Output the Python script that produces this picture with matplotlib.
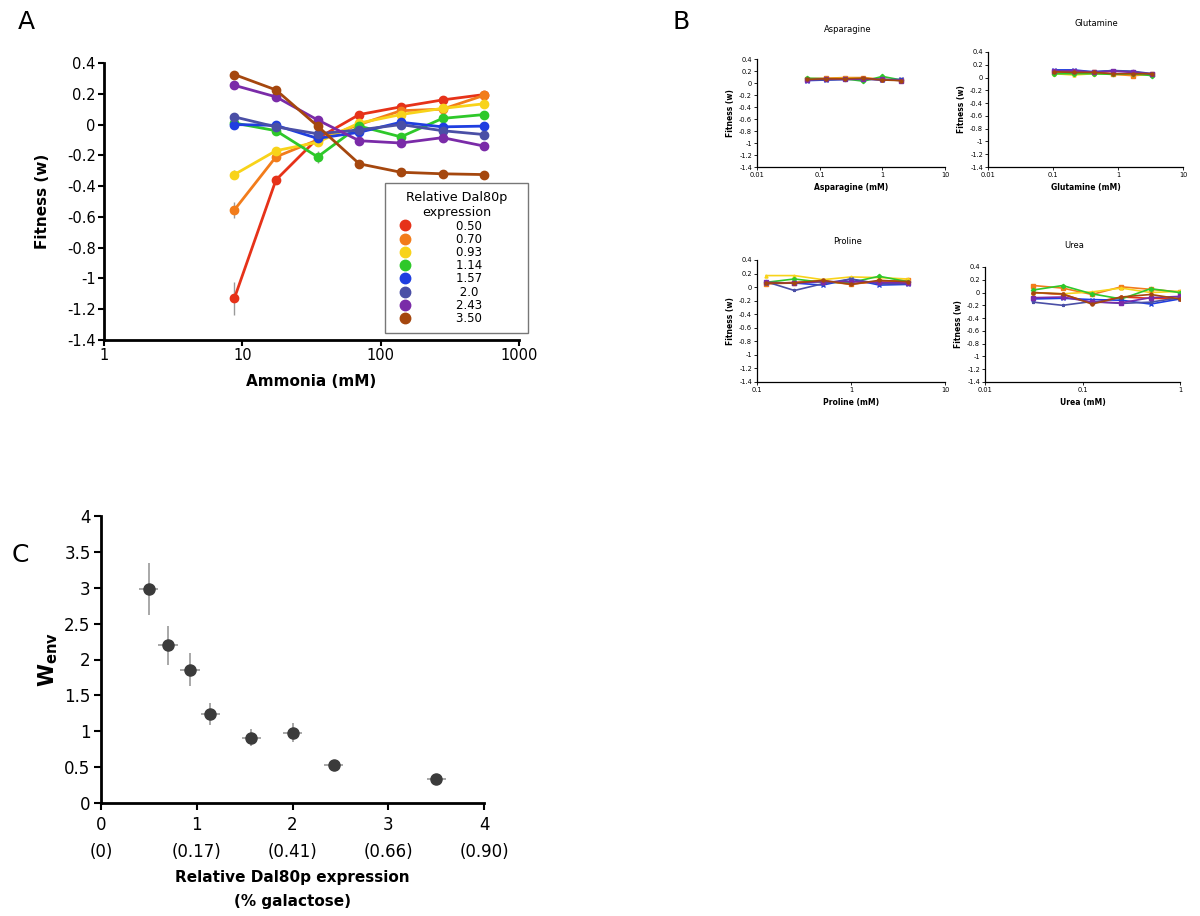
import matplotlib.pyplot as plt
from matplotlib.lines import Line2D

plt.rcParams['font.family'] = 'DejaVu Sans'
plt.rcParams['axes.unicode_minus'] = False

# expression levels (legend) and series colours
levels = ['0.50', '0.70', '0.93', '1.14', '1.57', '2.0', '2.43', '3.50']
colors = ['#e63219', '#f27c1b', '#f8d31a', '#2ec82a', '#1f3ee0', '#4a4fa6', '#7a2ba8', '#a5470e']

# panel A: ammonia
ammonia = [8.75, 17.5, 35, 70, 140, 280, 560]
fit_ammonia = [
    [-1.13, -0.36, -0.09, 0.065, 0.115, 0.16, 0.195],
    [-0.555, -0.21, -0.10, 0.00, 0.09, 0.10, 0.19],
    [-0.325, -0.17, -0.115, 0.01, 0.065, 0.105, 0.135],
    [0.01, -0.04, -0.21, -0.01, -0.08, 0.04, 0.065],
    [0.00, -0.005, -0.09, -0.05, 0.015, -0.015, -0.01],
    [0.05, -0.015, -0.06, -0.035, 0.00, -0.04, -0.065],
    [0.255, 0.18, 0.03, -0.105, -0.12, -0.085, -0.14],
    [0.325, 0.225, -0.01, -0.255, -0.31, -0.32, -0.325],
]
err_ammonia = [
    [0.11, 0.02, 0.02, 0.01, 0.01, 0.01, 0.01],
    [0.05, 0.02, 0.02, 0.01, 0.01, 0.01, 0.01],
    [0.03, 0.01, 0.01, 0.01, 0.01, 0.01, 0.01],
    [0.01, 0.01, 0.04, 0.01, 0.01, 0.01, 0.01],
    [0.01, 0.01, 0.01, 0.01, 0.01, 0.01, 0.01],
    [0.01, 0.01, 0.01, 0.01, 0.01, 0.01, 0.01],
    [0.01, 0.01, 0.01, 0.01, 0.01, 0.01, 0.01],
    [0.02, 0.01, 0.01, 0.01, 0.01, 0.01, 0.02],
]

# panel B: other nitrogen sources
asparagine = [0.0625, 0.125, 0.25, 0.5, 1, 2]
fit_asparagine = [
    [0.06, 0.07, 0.07, 0.07, 0.05, 0.05],
    [0.07, 0.08, 0.09, 0.09, 0.06, 0.05],
    [0.07, 0.07, 0.08, 0.08, 0.06, 0.04],
    [0.08, 0.07, 0.07, 0.03, 0.11, 0.05],
    [0.04, 0.05, 0.06, 0.07, 0.05, 0.06],
    [0.05, 0.05, 0.06, 0.06, 0.06, 0.05],
    [0.05, 0.07, 0.06, 0.07, 0.06, 0.04],
    [0.06, 0.07, 0.07, 0.08, 0.05, 0.04],
]
glutamine = [0.105, 0.21, 0.42, 0.84, 1.68, 3.36]
fit_glutamine = [
    [0.09, 0.09, 0.08, 0.06, 0.05, 0.06],
    [0.08, 0.08, 0.08, 0.05, 0.03, 0.05],
    [0.06, 0.04, 0.06, 0.05, 0.05, 0.04],
    [0.06, 0.06, 0.06, 0.05, 0.06, 0.03],
    [0.12, 0.12, 0.09, 0.11, 0.09, 0.05],
    [0.11, 0.10, 0.09, 0.11, 0.10, 0.06],
    [0.10, 0.11, 0.08, 0.10, 0.08, 0.06],
    [0.09, 0.08, 0.08, 0.06, 0.06, 0.06],
]
proline = [0.125, 0.25, 0.5, 1, 2, 4]
fit_proline = [
    [0.05, 0.07, 0.09, 0.05, 0.08, 0.08],
    [0.05, 0.06, 0.09, 0.04, 0.09, 0.10],
    [0.17, 0.17, 0.11, 0.15, 0.14, 0.12],
    [0.07, 0.12, 0.07, 0.07, 0.16, 0.08],
    [0.06, 0.06, 0.03, 0.12, 0.03, 0.04],
    [0.08, -0.05, 0.05, 0.12, 0.05, 0.05],
    [0.07, 0.06, 0.08, 0.08, 0.07, 0.06],
    [0.06, 0.06, 0.10, 0.04, 0.10, 0.08],
]
urea = [0.03125, 0.0625, 0.125, 0.25, 0.5, 1]
fit_urea = [
    [0.00, -0.03, -0.16, -0.07, -0.09, -0.10],
    [0.11, 0.07, -0.03, 0.09, 0.05, 0.01],
    [0.00, -0.02, 0.01, 0.07, 0.00, 0.02],
    [0.04, 0.11, -0.02, -0.10, 0.06, 0.00],
    [-0.10, -0.09, -0.11, -0.12, -0.18, -0.10],
    [-0.15, -0.20, -0.14, -0.17, -0.15, -0.08],
    [-0.08, -0.07, -0.15, -0.16, -0.08, -0.06],
    [0.00, -0.02, -0.18, -0.07, -0.03, -0.10],
]

# panel C
expression = [0.50, 0.70, 0.93, 1.14, 1.57, 2.0, 2.43, 3.50]
w_env = [2.98, 2.20, 1.86, 1.24, 0.91, 0.98, 0.53, 0.33]
w_env_err = [0.36, 0.27, 0.23, 0.155, 0.12, 0.13, 0.03, 0.02]
expr_err = [0.1, 0.1, 0.1, 0.1, 0.1, 0.1, 0.1, 0.1]
c_ticks = [0, 1, 2, 3, 4]
galactose = ['(0)', '(0.17)', '(0.41)', '(0.66)', '(0.90)']

W, H = 1200, 916
fig = plt.figure(figsize=(12, 9.16), dpi=100)


def rect(l, t, r, b):
    return [l / W, 1 - b / H, (r - l) / W, (b - t) / H]


def style(ax, lw):
    ax.spines['top'].set_visible(False)
    ax.spines['right'].set_visible(False)
    ax.spines['left'].set_linewidth(lw)
    ax.spines['bottom'].set_linewidth(lw)


fit_ticks = [0.4, 0.2, 0, -0.2, -0.4, -0.6, -0.8, -1, -1.2, -1.4]
fit_labels = ['%g' % v for v in fit_ticks]

# ---- A
axA = fig.add_axes(rect(104, 63, 519, 340))
for i in range(len(levels)):
    axA.errorbar(ammonia, fit_ammonia[i], yerr=err_ammonia[i], color=colors[i],
                 ecolor='#9a9a9a', elinewidth=1, lw=2, marker='o', ms=6, zorder=3)
axA.set_xscale('log')
axA.set_xlim(1, 1000)
axA.set_ylim(-1.4, 0.4)
axA.set_xticks([1, 10, 100, 1000])
axA.set_xticklabels(['1', '10', '100', '1000'])
axA.minorticks_off()
axA.set_yticks(fit_ticks)
axA.set_yticklabels(fit_labels)
axA.tick_params(labelsize=10.5, width=1.5, length=4, pad=2)
axA.set_xlabel('Ammonia (mM)', fontsize=11, fontweight='bold', labelpad=8)
axA.set_ylabel('Fitness (w)', fontsize=11, fontweight='bold', labelpad=12)
style(axA, 2)

# legend: labels centred like the original, trailing spaces widen the box
leg_labels = [(s if len(s) == 4 else ' ' + s) + ' ' * 10 for s in levels]
handles = [Line2D([], [], ls='none', marker='o', ms=7.5, color=c) for c in colors]
leg = axA.legend(handles, leg_labels, title='Relative Dal80p\nexpression',
                 loc='upper left', bbox_to_anchor=(385 / W, 1 - 183 / H),
                 bbox_transform=fig.transFigure, fontsize=8.5, title_fontsize=9.2,
                 frameon=True, fancybox=False, edgecolor='#555555',
                 handletextpad=3.3, labelspacing=0.02, borderpad=0.7,
                 handlelength=2.0, borderaxespad=0)
leg.get_title().set_multialignment('center')
leg.get_frame().set_linewidth(1)

# ---- B
b_panels = [
    ('Asparagine', asparagine, fit_asparagine, (757, 59, 945, 167), (0.01, 10), [0.01, 0.1, 1, 10], (848, 30)),
    ('Glutamine', glutamine, fit_glutamine, (988, 52, 1183, 167), (0.01, 10), [0.01, 0.1, 1, 10], (1096, 23)),
    ('Proline', proline, fit_proline, (757, 260, 945, 382), (0.1, 10), [0.1, 1, 10], (848, 242)),
    ('Urea', urea, fit_urea, (985, 267, 1180, 382), (0.01, 1), [0.01, 0.1, 1], (1074, 245)),
]
markers = ['o', 's', '^', 'D', 'x', '*', 's', 'o']
for name, xs, ys, box, xl, xt, tpos in b_panels:
    ax = fig.add_axes(rect(*box))
    for i in range(len(levels)):
        ax.plot(xs, ys[i], color=colors[i], lw=1.2, marker=markers[i], ms=2.2)
    ax.set_xscale('log')
    ax.set_xlim(*xl)
    ax.set_ylim(-1.4, 0.4)
    ax.set_xticks(xt)
    ax.set_xticklabels(['%g' % v for v in xt])
    ax.minorticks_off()
    ax.set_yticks(fit_ticks)
    ax.set_yticklabels(fit_labels)
    ax.tick_params(labelsize=4.8, width=0.6, length=2, pad=1.5)
    ax.set_xlabel(name + ' (mM)', fontsize=5.5, fontweight='bold', labelpad=4)
    ax.set_ylabel('Fitness (w)', fontsize=5.5, fontweight='bold', labelpad=3)
    style(ax, 0.9)
    fig.text(tpos[0] / W, 1 - tpos[1] / H, name, fontsize=6, ha='center', va='center')

# ---- C
axC = fig.add_axes(rect(101, 516, 484, 803))
axC.errorbar(expression, w_env, yerr=w_env_err, xerr=expr_err, fmt='o', color='#3b3b3b',
             ms=8, ecolor='#9a9a9a', elinewidth=1.2, capsize=0, zorder=3)
axC.set_xlim(0, 4)
axC.set_ylim(0, 4)
axC.set_xticks(c_ticks)
axC.set_xticklabels(['%d\n%s' % (t, g) for t, g in zip(c_ticks, galactose)], linespacing=1.7)
axC.set_yticks([0, 0.5, 1, 1.5, 2, 2.5, 3, 3.5, 4])
axC.set_yticklabels(['0', '0.5', '1', '1.5', '2', '2.5', '3', '3.5', '4'])
axC.tick_params(labelsize=12, width=1.5, length=5, pad=2.5)
axC.tick_params(axis='x', pad=4)
axC.set_xlabel('Relative Dal80p expression\n(% galactose)', fontsize=11, fontweight='bold',
               linespacing=1.75, labelpad=6)
axC.set_ylabel(r'$\mathbf{W}_{\mathbf{env}}$', fontsize=15, labelpad=3)
style(axC, 2)

# panel letters
fig.text(18 / W, 1 - 22 / H, 'A', fontsize=18, va='center', ha='left')
fig.text(672 / W, 1 - 22 / H, 'B', fontsize=18, va='center', ha='left')
fig.text(12 / W, 1 - 555 / H, 'C', fontsize=18, va='center', ha='left')

fig.savefig('out.png', dpi=100)
